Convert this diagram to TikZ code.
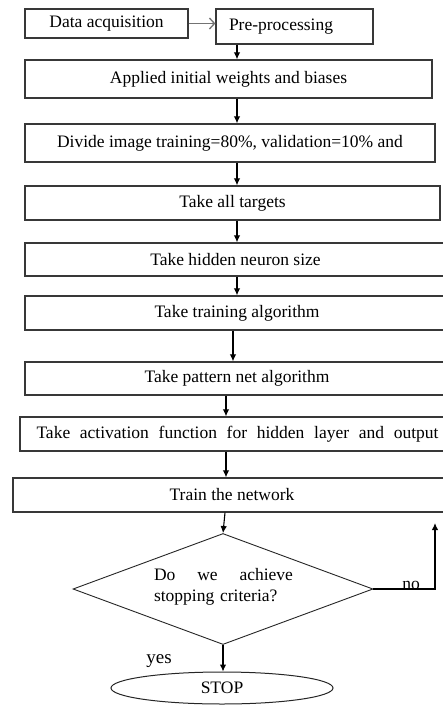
\documentclass[tikz,border=0pt]{standalone}
\usepackage{fontspec}
\setmainfont{Liberation Serif}
\usetikzlibrary{shapes.geometric,arrows.meta,calc}
\begin{document}
\begin{tikzpicture}[x=1pt,y=-1pt,
  txt/.style={font=\fontsize{17.5}{21}\selectfont, text=black},
  box/.style={txt, draw=black!78, line width=1.3pt, rectangle, inner sep=0pt},
  arr/.style={draw=black, line width=1.1pt, -{Latex[length=7pt,width=6.5pt]}},
  openarr/.style={draw=black!55, line width=1.3pt, -{Straight Barb[length=5pt,width=11pt,line width=1.3pt]}}]
\path[use as bounding box, clip] (0,0) rectangle (443,705);
\fill[white] (0,0) rectangle (443,705);
% columns for the vertical connectors
\coordinate (xa) at (237,0);
\coordinate (xb) at (233,0);
\coordinate (xc) at (226,0);
\coordinate (xd) at (225,0);
% boxes
\node[box, minimum width=163pt, minimum height=29pt] (acq) at (106.5,23.5) {Data acquisition};
\node[box, minimum height=35pt, inner xsep=13pt, text width=131pt, align=left] (pre) at (294.5,26.5) {Pre-processing};
\node[box, minimum width=407pt, minimum height=38pt] (apl) at (228.5,79) {Applied initial weights and biases};
\node[box, minimum width=410pt, minimum height=38pt] (div) at (230,143) {Divide image training=80\%, validation=10\% and};
\node[box, minimum width=415pt, minimum height=34pt] (tgt) at (232.5,203) {Take all targets};
\node[box, minimum width=421pt, minimum height=33pt] (hid) at (235.5,259.5) {Take hidden neuron size};
\node[box, minimum width=424pt, minimum height=34pt] (trn) at (237,313) {Take training algorithm};
\node[box, minimum width=424pt, minimum height=33pt] (pat) at (237,378.5) {Take pattern net algorithm};
\node[box, minimum width=435pt, minimum height=34pt] (act) at (237.5,434) {\makebox[402pt][s]{Take activation function for hidden layer and output}};
\node[box, minimum width=438pt, minimum height=34pt] (net) at (232,495) {Train the network};
\node[draw=black!85, line width=0.9pt, diamond, minimum width=300pt, minimum height=111pt, inner sep=0pt] (dec) at (223,589) {};
\node[txt, inner sep=0pt, text width=139pt, align=left] (dectext) at (223.5,587) {\makebox[139pt][l]{Do\hfill we\hfill achieve}\\stopping criteria?};
\node[txt, draw=black!85, line width=1pt, ellipse, minimum width=222pt, minimum height=32pt, inner sep=0pt] (stop) at (222,688) {STOP};
\node[txt, anchor=base, inner sep=0pt] (no) at (411,589) {no};
\node[txt, font=\fontsize{19}{22}\selectfont, anchor=base, inner sep=0pt] (yes) at (159,663) {yes};
\coordinate (up) at (435,523);
% connectors
\draw[openarr] (acq.east) -- (pre.west |- acq.east);
\draw[arr] (pre.south -| xa) -- (apl.north -| xa);
\draw[arr] (apl.south -| xa) -- (div.north -| xa);
\draw[arr] (div.south -| xa) -- (tgt.north -| xa);
\draw[arr] (tgt.south -| xa) -- (hid.north -| xa);
\draw[arr] (hid.south -| xa) -- (trn.north -| xa);
\draw[arr] (trn.south -| xb) -- (pat.north -| xb);
\draw[arr] (pat.south -| xc) -- (act.north -| xc);
\draw[arr] (act.south -| xc) -- (net.north -| xc);
\draw[arr] (net.south -| xd) -- (dec.north);
\draw[arr] (dec.south) -- (stop.north -| dec.south);
\draw[arr, line width=1.2pt] (dec.east) -- (dec.east -| up) -- (up);
\end{tikzpicture}
\end{document}
